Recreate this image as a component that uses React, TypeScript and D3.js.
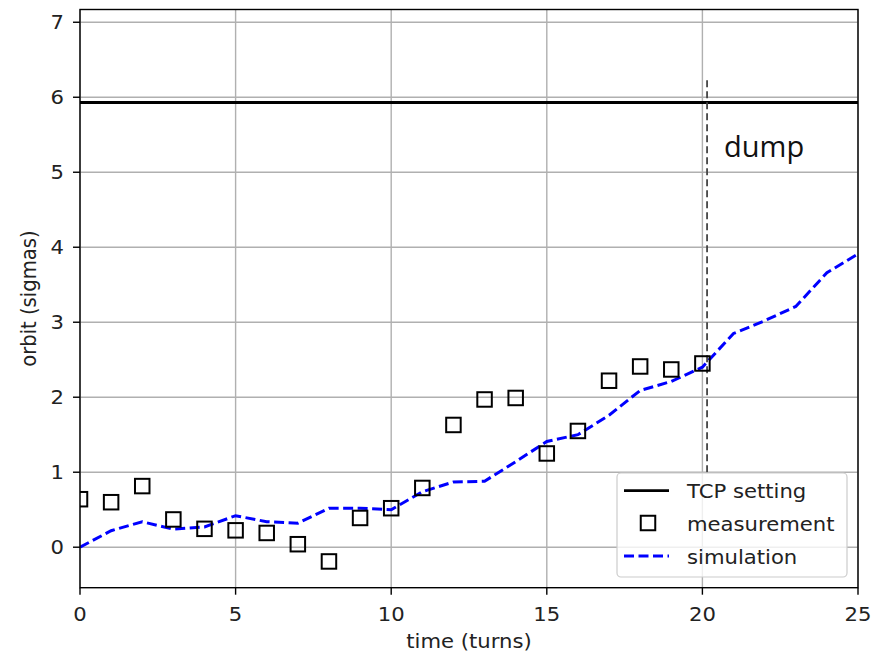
import React from "react";
import * as d3 from "d3";

const xTicks = [0, 5, 10, 15, 20, 25];
const yTicks = [0, 1, 2, 3, 4, 5, 6, 7];
const measX = [0, 1, 2, 3, 4, 5, 6, 7, 8, 9, 10, 11, 12, 13, 14, 15, 16, 17, 18, 19, 20];
const measY = [0.64, 0.6, 0.815, 0.37, 0.245, 0.225, 0.19, 0.04, -0.19, 0.39, 0.52, 0.79, 1.63, 1.97, 1.99, 1.25, 1.55, 2.22, 2.41, 2.37, 2.45];
const simX = [0, 1, 2, 3, 4, 5, 6, 7, 8, 9, 10, 11, 12, 13, 14, 15, 16, 17, 18, 19, 20, 21, 22, 23, 24, 25];
const simY = [0.0, 0.22, 0.34, 0.24, 0.27, 0.42, 0.34, 0.32, 0.52, 0.52, 0.5, 0.74, 0.87, 0.88, 1.14, 1.41, 1.5, 1.76, 2.09, 2.21, 2.4, 2.85, 3.02, 3.21, 3.66, 3.91];
const tcpLevel = 5.93;
const dumpTurn = 20.15;
const dumpRange = [1.0, 6.27];
const legendLabels = ["TCP setting", "measurement", "simulation"];

const W = 871, H = 657;
const L = 80, R = 858, T = 9.5, B = 587.7;
const FONT = "DejaVu Sans, sans-serif";
const FS = 19.6;
const SX = 1.08;

export default function App() {
  const x = d3.scaleLinear().domain([0, 25]).range([L, R]);
  const y = d3.scaleLinear().domain([-0.54, 7.17]).range([B, T]);
  const line = d3.line<number>().x((_, i) => x(simX[i])).y((d) => y(d));
  const sq = 14.5;
  const lx = 617, ly = 473, lw = 230, lh = 104;
  return (
    <svg width={W} height={H} style={{ position: "absolute", left: 0, top: 0, background: "#fff" }}>
      <defs>
        <clipPath id="clip"><rect x={L} y={T} width={R - L} height={B - T} /></clipPath>
      </defs>
      <rect x={0} y={0} width={W} height={H} fill="#fff" />
      <g stroke="#b0b0b0" strokeWidth={1.4}>
        {xTicks.map((t) => <line key={"gx" + t} x1={x(t)} x2={x(t)} y1={T} y2={B} />)}
        {yTicks.map((t) => <line key={"gy" + t} x1={L} x2={R} y1={y(t)} y2={y(t)} />)}
      </g>
      <g clipPath="url(#clip)">
        <line x1={L} x2={R} y1={y(tcpLevel)} y2={y(tcpLevel)} stroke="#000" strokeWidth={2.8} />
        <line x1={x(dumpTurn)} x2={x(dumpTurn)} y1={y(dumpRange[0])} y2={y(dumpRange[1])} stroke="#444" strokeWidth={1.8} strokeDasharray="7,4" />
        <path d={line(simY) || ""} fill="none" stroke="#0000ff" strokeWidth={3} strokeDasharray="10,4.5" />
        {measX.map((m, i) => (
          <rect key={"m" + i} x={x(m) - sq / 2} y={y(measY[i]) - sq / 2} width={sq} height={sq} fill="none" stroke="#000" strokeWidth={2} />
        ))}
      </g>
      <rect x={L} y={T} width={R - L} height={B - T} fill="none" stroke="#000" strokeWidth={1.4} />
      <g stroke="#000" strokeWidth={1.4}>
        {xTicks.map((t) => <line key={"tx" + t} x1={x(t)} x2={x(t)} y1={B} y2={B + 7} />)}
        {yTicks.map((t) => <line key={"ty" + t} x1={L} x2={L - 7} y1={y(t)} y2={y(t)} />)}
      </g>
      <g fontFamily={FONT} fontSize={FS} fill="#222">
        {xTicks.map((t) => (
          <text key={"lx" + t} transform={`translate(${x(t)},621) scale(${SX},1)`} textAnchor="middle">{t}</text>
        ))}
        {yTicks.map((t) => (
          <text key={"ly" + t} transform={`translate(64,${y(t) + 7.1}) scale(${SX},1)`} textAnchor="end">{t}</text>
        ))}
        <text transform={`translate(${(L + R) / 2},648) scale(${SX},1)`} textAnchor="middle">time (turns)</text>
        <text transform={`translate(36,${(T + B) / 2}) rotate(-90) scale(1,${SX})`} textAnchor="middle">orbit (sigmas)</text>
      </g>
      <rect x={lx} y={ly} width={lw} height={lh} rx={4} fill="#fff" fillOpacity={0.8} stroke="#cccccc" strokeWidth={1.2} />
      <g>
        <line x1={624} x2={669} y1={490.7} y2={490.7} stroke="#000" strokeWidth={2.8} />
        <rect x={648 - sq / 2} y={523 - sq / 2} width={sq} height={sq} fill="none" stroke="#000" strokeWidth={2} />
        <line x1={624} x2={669} y1={556} y2={556} stroke="#0000ff" strokeWidth={3} strokeDasharray="10,4.5" />
        <g fontFamily={FONT} fontSize={FS} fill="#222">
          {legendLabels.map((lab, i) => (
            <text key={lab} transform={`translate(687,${497.5 + i * 33}) scale(${SX},1)`}>{lab}</text>
          ))}
        </g>
      </g>
      <text x={724} y={157} fontFamily="Open Sans, sans-serif" fontSize={29} fill="#111">dump</text>
    </svg>
  );
}
